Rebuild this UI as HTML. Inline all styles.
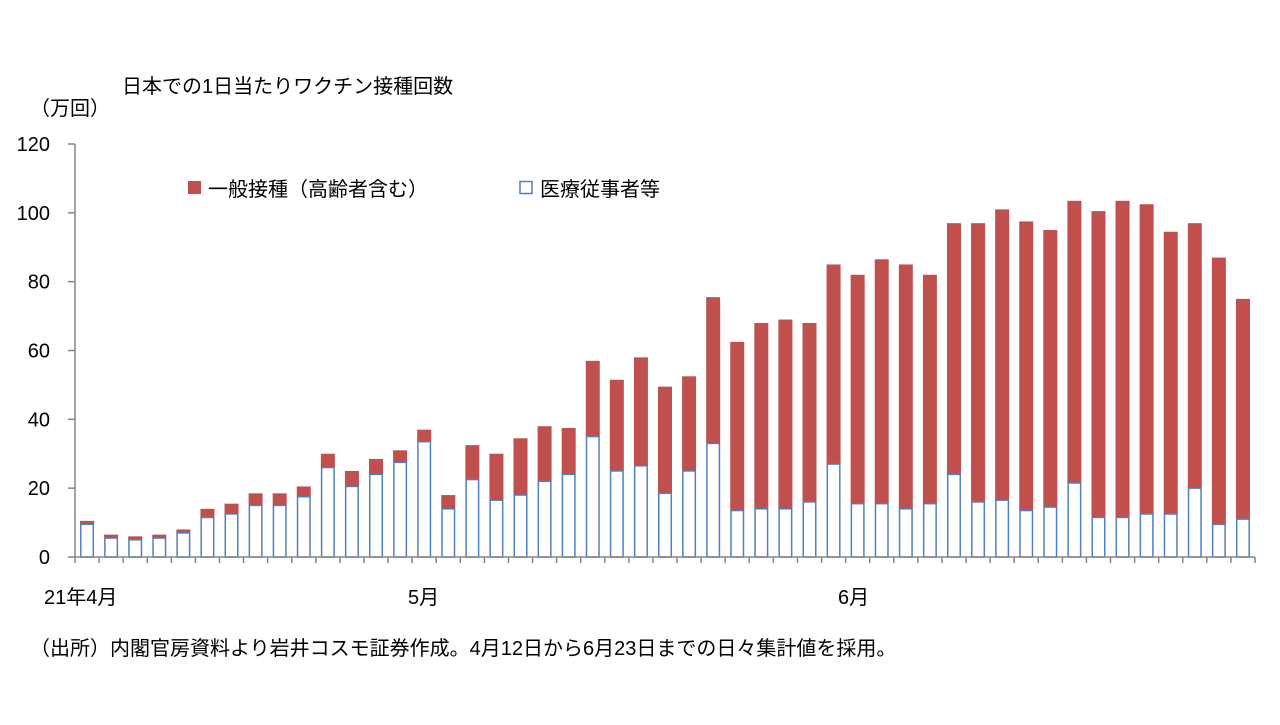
<!DOCTYPE html>
<html><head><meta charset="utf-8"><style>
body{margin:0;background:#fff;}
svg text{font-family:"Liberation Sans","Noto Sans CJK JP",sans-serif;fill:#000;}
</style></head><body>
<svg width="1280" height="720">
<text x="122" y="93" font-size="20">日本での1日当たりワクチン接種回数</text>
<text x="30" y="115" font-size="20">（万回）</text>
<g id="axes"></g>
<g id="bars"></g>
<rect x="188" y="181" width="13" height="13" fill="#c0504d"/>
<text x="208" y="196" font-size="20">一般接種（高齢者含む）</text>
<rect x="520" y="181.5" width="12" height="12" fill="#fff" stroke="#4f81bd" stroke-width="1.5"/>
<text x="540" y="196" font-size="20">医療従事者等</text>
<text x="44" y="604" font-size="20">21年4月</text>
<text x="408" y="604" font-size="20">5月</text>
<text x="838" y="604" font-size="20">6月</text>
<text x="30" y="655" font-size="20">（出所）内閣官房資料より岩井コスモ証券作成。4月12日から6月23日までの日々集計値を採用。</text>
</svg>
<script>
const totals=[10.5,6.5,6,6.5,8,14,15.5,18.5,18.5,20.5,30,25,28.5,31,37,18,32.5,30,34.5,38,37.5,57,51.5,58,49.5,52.5,75.5,62.5,68,69,68,85,82,86.5,85,82,97,97,101,97.5,95,103.5,100.5,103.5,102.5,94.5,97,87,75];
const medical=[9.5,5.5,5,5.5,7,11.5,12.5,15,15,17.5,26,20.5,24,27.5,33.5,14,22.5,16.5,18,22,24,35,25,26.5,18.5,25,33,13.5,14,14,16,27,15.5,15.5,14,15.5,24,16,16.5,13.5,14.5,21.5,11.5,11.5,12.5,12.5,20,9.5,11];
const yTicks=[0,20,40,60,80,100,120];
const NS="http://www.w3.org/2000/svg";
const x0=75,x1=1255,y0=557,yTop=144,yMax=120;
const n=totals.length,step=(x1-x0)/n,bw=14;
const ys=v=>y0-(v/yMax)*(y0-yTop);
const xs=i=>x0+step*(i+0.5);
function mk(tag,attrs,parent){const e=document.createElementNS(NS,tag);for(const k in attrs)e.setAttribute(k,attrs[k]);parent.appendChild(e);return e;}
const ax=document.getElementById('axes'),bg=document.getElementById('bars');
let l=mk('line',{x1:x0,y1:yTop,x2:x0,y2:y0,stroke:'#868686','stroke-width':1.5},ax);


yTicks.forEach(t=>{
 const tl=mk('line',{x1:x0-7,y1:ys(t),x2:x0,y2:ys(t),stroke:'#868686','stroke-width':1.5},ax);
 
 
 const tx=mk('text',{x:50,y:ys(t)+7,'font-size':20,'text-anchor':'end'},ax);
 tx.textContent=t;
 
 
});
for(let i=0;i<=n;i++){
 const xt=x0+step*i;
 const t=mk('line',{x1:xt,y1:y0,x2:xt,y2:y0+6,stroke:'#868686','stroke-width':1.5},ax);
 
 
}
totals.forEach((tot,i)=>{
 const m=medical[i];
 const r=mk('rect',{x:xs(i)-bw/2,y:ys(tot),width:bw,height:ys(m)-ys(tot),fill:'#c0504d'},bg);
 
 
 const b=mk('rect',{x:xs(i)-bw/2+0.75,y:ys(m),width:bw-1.5,height:y0-ys(m),fill:'#fff',stroke:'#4f81bd','stroke-width':1.5},bg);
 
 
});
const xa=mk('line',{x1:x0,y1:y0,x2:x1,y2:y0,stroke:'#868686','stroke-width':1.5},ax.parentNode);


</script>
</body></html>
